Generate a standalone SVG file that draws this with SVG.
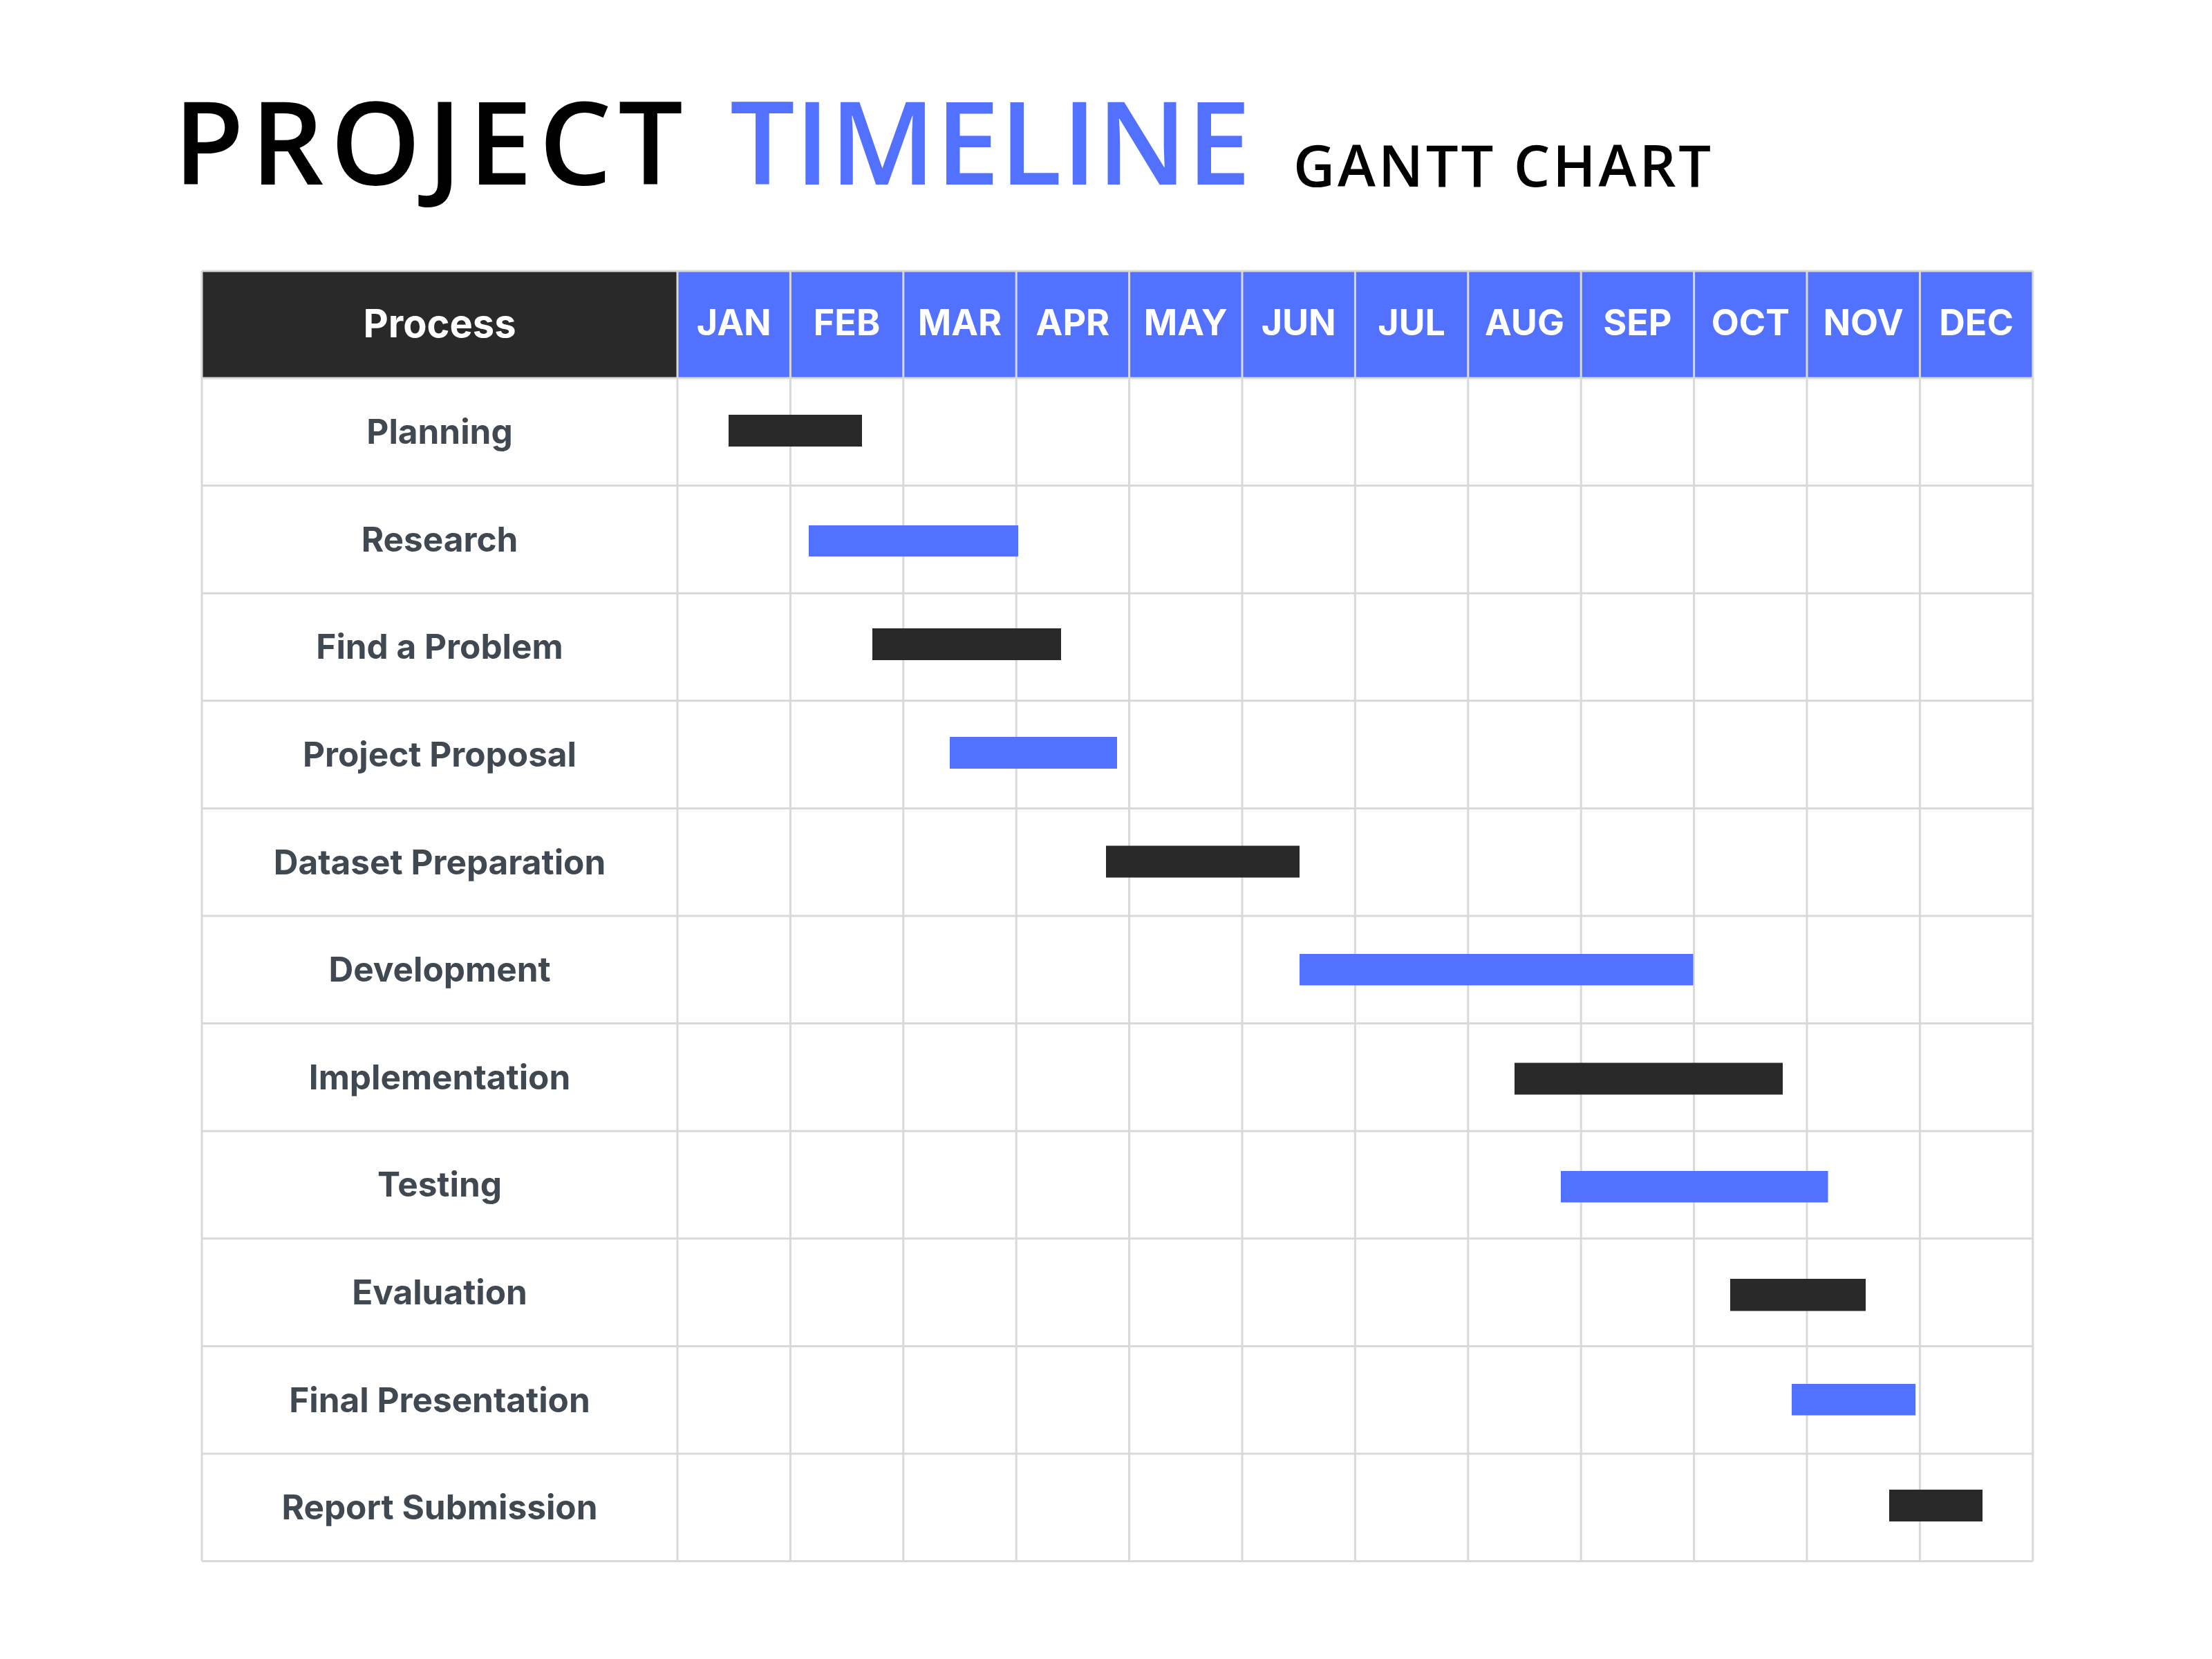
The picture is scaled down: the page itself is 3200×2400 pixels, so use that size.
<svg xmlns="http://www.w3.org/2000/svg" width="3200" height="2400" viewBox="0 0 3200 2400">
<style>
.title{font-family:"Open Sans","Noto Sans",sans-serif;font-weight:600}
.hdr{font-family:Inter,"Liberation Sans",sans-serif;font-weight:700;fill:#ffffff;text-anchor:middle}
.mon{font-size:52px}
.lbl{font-family:Inter,"Liberation Sans",sans-serif;font-weight:700;fill:#404852;font-size:49.5px;text-anchor:middle}
.grid line{stroke:#d9d9d9;stroke-width:3}
.dark{fill:#292929}
.blue{fill:#5271ff}
</style>
<rect width="3200" height="2400" fill="#ffffff"/>
<g id="title">
<text class="title" x="251" y="267" font-size="166" letter-spacing="9.5" fill="#000000">PROJECT</text>
<text class="title" x="1056" y="267" font-size="166" fill="#5271ff">TIMELINE</text>
<text class="title" x="1871" y="270" font-size="83" letter-spacing="3.9" fill="#000000">GANTT CHART</text>
</g>
<g id="header">
<rect x="292" y="392" width="688" height="155" class="dark"/>
<rect x="980" y="392" width="1961" height="155" class="blue"/>
<text class="hdr" x="636" y="488" font-size="56">Process</text>
<text class="hdr mon" x="1061.7" y="485">JAN</text>
<text class="hdr mon" x="1225.1" y="485">FEB</text>
<text class="hdr mon" x="1388.5" y="485">MAR</text>
<text class="hdr mon" x="1551.9" y="485">APR</text>
<text class="hdr mon" x="1715.3" y="485">MAY</text>
<text class="hdr mon" x="1878.7" y="485">JUN</text>
<text class="hdr mon" x="2042.1" y="485">JUL</text>
<text class="hdr mon" x="2205.5" y="485">AUG</text>
<text class="hdr mon" x="2368.9" y="485">SEP</text>
<text class="hdr mon" x="2532.3" y="485">OCT</text>
<text class="hdr mon" x="2695.7" y="485">NOV</text>
<text class="hdr mon" x="2859.1" y="485">DEC</text>
</g>
<g id="grid" class="grid">
<line x1="292" y1="392" x2="2941" y2="392"/>
<line x1="292" y1="547" x2="2941" y2="547"/>
<line x1="292" y1="702.6" x2="2941" y2="702.6"/>
<line x1="292" y1="858.2" x2="2941" y2="858.2"/>
<line x1="292" y1="1013.8" x2="2941" y2="1013.8"/>
<line x1="292" y1="1169.4" x2="2941" y2="1169.4"/>
<line x1="292" y1="1325" x2="2941" y2="1325"/>
<line x1="292" y1="1480.6" x2="2941" y2="1480.6"/>
<line x1="292" y1="1636.2" x2="2941" y2="1636.2"/>
<line x1="292" y1="1791.8" x2="2941" y2="1791.8"/>
<line x1="292" y1="1947.4" x2="2941" y2="1947.4"/>
<line x1="292" y1="2103" x2="2941" y2="2103"/>
<line x1="292" y1="2258.6" x2="2941" y2="2258.6"/>
<line x1="292" y1="392" x2="292" y2="2258.6"/>
<line x1="980" y1="392" x2="980" y2="2258.6"/>
<line x1="1143.4" y1="392" x2="1143.4" y2="2258.6"/>
<line x1="1306.8" y1="392" x2="1306.8" y2="2258.6"/>
<line x1="1470.2" y1="392" x2="1470.2" y2="2258.6"/>
<line x1="1633.6" y1="392" x2="1633.6" y2="2258.6"/>
<line x1="1797" y1="392" x2="1797" y2="2258.6"/>
<line x1="1960.4" y1="392" x2="1960.4" y2="2258.6"/>
<line x1="2123.8" y1="392" x2="2123.8" y2="2258.6"/>
<line x1="2287.2" y1="392" x2="2287.2" y2="2258.6"/>
<line x1="2450.6" y1="392" x2="2450.6" y2="2258.6"/>
<line x1="2614" y1="392" x2="2614" y2="2258.6"/>
<line x1="2777.4" y1="392" x2="2777.4" y2="2258.6"/>
<line x1="2940.8" y1="392" x2="2940.8" y2="2258.6"/>
</g>
<g id="connectors"></g>
<g id="row-planning">
<text class="lbl" x="636" y="642">Planning</text>
<rect class="dark" x="1054" y="600" width="193" height="46"/>
</g>
<g id="row-research">
<text class="lbl" x="636" y="797.5">Research</text>
<rect class="blue" x="1170" y="760" width="303" height="45"/>
</g>
<g id="row-find-a-problem">
<text class="lbl" x="636" y="953">Find a Problem</text>
<rect class="dark" x="1262" y="909" width="273" height="46"/>
</g>
<g id="row-project-proposal">
<text class="lbl" x="636" y="1109">Project Proposal</text>
<rect class="blue" x="1374" y="1066" width="242" height="46"/>
</g>
<g id="row-dataset-preparation">
<text class="lbl" x="636" y="1264.5">Dataset Preparation</text>
<rect class="dark" x="1600" y="1223.5" width="280" height="46"/>
</g>
<g id="row-development">
<text class="lbl" x="636" y="1420">Development</text>
<rect class="blue" x="1880" y="1380" width="569.5" height="45.5"/>
</g>
<g id="row-implementation">
<text class="lbl" x="636" y="1575.5">Implementation</text>
<rect class="dark" x="2191" y="1537.5" width="388" height="46"/>
</g>
<g id="row-testing">
<text class="lbl" x="636" y="1731">Testing</text>
<rect class="blue" x="2258" y="1694" width="386.5" height="45.5"/>
</g>
<g id="row-evaluation">
<text class="lbl" x="636" y="1887">Evaluation</text>
<rect class="dark" x="2503" y="1850" width="196" height="46.5"/>
</g>
<g id="row-final-presentation">
<text class="lbl" x="636" y="2042.5">Final Presentation</text>
<rect class="blue" x="2592" y="2002" width="179" height="45.5"/>
</g>
<g id="row-report-submission">
<text class="lbl" x="636" y="2198">Report Submission</text>
<rect class="dark" x="2733" y="2155" width="135" height="46"/>
</g>
</svg>
